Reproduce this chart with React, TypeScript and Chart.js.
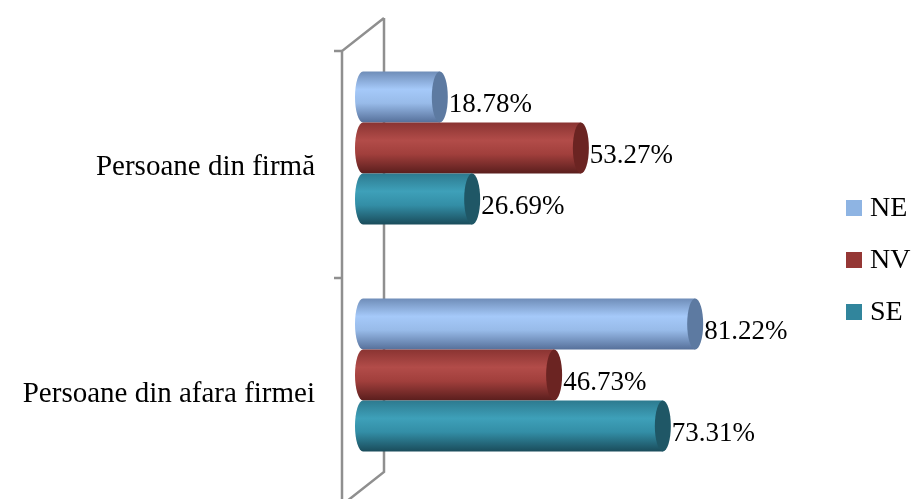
import { useEffect, useRef } from "react";
import { Chart, registerables } from "chart.js";

Chart.register(...registerables);

const categories = ["Persoane din firmă", "Persoane din afara firmei"];
const seriesNames = ["NE", "NV", "SE"];
const neValues = [18.78, 81.22];
const nvValues = [53.27, 46.73];
const seValues = [26.69, 73.31];
const seriesColors = ["#8EB4E3", "#953735", "#31859C"];

const FONT = "'Liberation Serif', 'Times New Roman', serif";

const shades = [
  { stops: ["#6f8db8", "#a5c9f9", "#98bbe9", "#56709a"], cap: "#5d7aa1" },
  { stops: ["#8a3432", "#b24c49", "#a13f3c", "#5a1e1d"], cap: "#6b2422" },
  { stops: ["#2d7a8f", "#3ea0b9", "#338ea6", "#1a4c5b"], cap: "#1f5766" },
];

const DX = 21;
const DY = 16.5;

const cylinderPlugin = {
  id: "cylinders",
  beforeDatasetsDraw(chart: any) {
    const ctx = chart.ctx;
    const ys = chart.scales.y;
    const xs = chart.scales.x;
    const x0 = xs.getPixelForValue(0);
    const top = ys.top;
    const bottom = ys.bottom;
    const mid = (ys.getPixelForValue(0) + ys.getPixelForValue(1)) / 2;
    ctx.save();
    ctx.strokeStyle = "#8f8f8f";
    ctx.lineWidth = 2.5;
    ctx.lineCap = "butt";
    ctx.beginPath();
    ctx.moveTo(x0 + DX, top - DY);
    ctx.lineTo(x0 + DX, bottom - DY);
    ctx.lineTo(x0 - DX, bottom + DY);
    ctx.lineTo(x0 - DX, top + DY);
    ctx.lineTo(x0 + DX, top - DY);
    ctx.stroke();
    ctx.beginPath();
    [top, mid, bottom].forEach((b) => {
      ctx.moveTo(x0 - DX - 8, b + DY);
      ctx.lineTo(x0 - DX, b + DY);
    });
    ctx.stroke();
    ctx.restore();
  },
  beforeDatasetDraw() {
    return false;
  },
  afterDatasetsDraw(chart: any) {
    const ctx = chart.ctx;
    chart.data.datasets.forEach((ds: any, di: number) => {
      const meta = chart.getDatasetMeta(di);
      const sh = shades[di];
      meta.data.forEach((el: any, i: number) => {
        const { x, y, base, height } = el.getProps(["x", "y", "base", "height"], true);
        const t = y - height / 2;
        const b = y + height / 2;
        const ry = height / 2;
        const rx = 8;
        ctx.save();
        const g = ctx.createLinearGradient(0, t, 0, b);
        g.addColorStop(0, sh.stops[0]);
        g.addColorStop(0.35, sh.stops[1]);
        g.addColorStop(0.62, sh.stops[2]);
        g.addColorStop(1, sh.stops[3]);
        ctx.beginPath();
        ctx.moveTo(x, t);
        ctx.lineTo(base, t);
        ctx.ellipse(base, y, rx, ry, 0, -Math.PI / 2, Math.PI / 2, true);
        ctx.lineTo(x, b);
        ctx.closePath();
        ctx.fillStyle = g;
        ctx.fill();
        ctx.beginPath();
        ctx.ellipse(x, y, rx, ry, 0, 0, Math.PI * 2);
        ctx.fillStyle = sh.cap;
        ctx.fill();
        ctx.fillStyle = "#000";
        ctx.font = `27px ${FONT}`;
        ctx.textAlign = "left";
        ctx.textBaseline = "middle";
        ctx.fillText(ds.data[i].toFixed(2) + "%", x + rx + 1, y + 8);
        ctx.restore();
      });
    });
  },
  afterDraw(chart: any) {
    const ctx = chart.ctx;
    ctx.save();
    ctx.font = `28px ${FONT}`;
    ctx.textAlign = "left";
    ctx.textBaseline = "middle";
    chart.data.datasets.forEach((ds: any, di: number) => {
      const cy = 208 + di * 52;
      ctx.fillStyle = ds.backgroundColor;
      ctx.fillRect(846, cy - 8, 16, 16);
      ctx.fillStyle = "#000";
      ctx.fillText(ds.label, 870, cy + 1);
    });
    ctx.restore();
  },
};

export default function App() {
  const ref = useRef<HTMLCanvasElement | null>(null);
  useEffect(() => {
    if (!ref.current) return;
    const valueSets = [neValues, nvValues, seValues];
    const chart = new Chart(ref.current, {
      type: "bar",
      data: {
        labels: categories,
        datasets: seriesNames.map((name, i) => ({
          label: name,
          data: valueSets[i],
          backgroundColor: seriesColors[i],
          categoryPercentage: 0.674,
          barPercentage: 1,
        })),
      },
      options: {
        indexAxis: "y",
        responsive: false,
        animation: false,
        layout: { padding: { top: 34.5, bottom: 10.5, right: 142, left: 0 } },
        plugins: {
          legend: { display: false },
          tooltip: { enabled: false },
        },
        scales: {
          x: { display: false, min: 0, max: 100 },
          y: {
            grid: { display: false, drawTicks: false },
            border: { display: false },
            ticks: {
              color: "#000",
              font: { family: FONT, size: 29 },
              padding: 48,
              labelOffset: 19,
            },
            afterFit: (scale: any) => {
              scale.width = 363;
              scale.paddingTop = 0;
              scale.paddingBottom = 0;
            },
          },
        },
      },
      plugins: [cylinderPlugin],
    } as any);
    return () => chart.destroy();
  }, []);
  return (
    <div style={{ position: "absolute", left: 0, top: 0, width: 914, height: 499, background: "#fff" }}>
      <canvas ref={ref} width={914} height={499} />
    </div>
  );
}
